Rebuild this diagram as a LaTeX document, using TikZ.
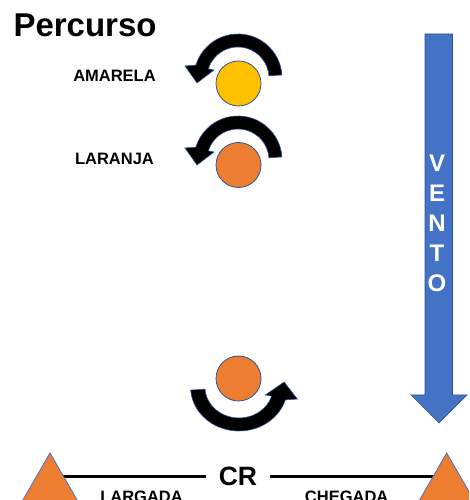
\documentclass[tikz,border=0pt]{standalone}
\usepackage{fontspec}
\setmainfont{Liberation Sans}
\usetikzlibrary{shapes}
\definecolor{amarelo}{HTML}{FFC000}
\definecolor{laranja}{HTML}{ED7D31}
\definecolor{azul}{HTML}{4472C4}
\definecolor{azulescuro}{HTML}{2F528F}
\newcommand{\rotulo}[1]{{\fontsize{16.5}{18}\selectfont\bfseries #1}}
% curved arrow turning round a buoy, drawn about its own centre
\newcommand{\giro}{%
  \filldraw[giroseta] (4:44) arc[start angle=4, end angle=163, radius=44]
    -- (-53,12) -- (-41,-5) -- (-24,8)
    -- (163:31) arc[start angle=163, end angle=4, radius=31] -- cycle;}

\begin{document}
\begin{tikzpicture}[x=1pt, y=1pt,
    bola/.style={circle, draw=azulescuro, line width=0.8pt, minimum size=45pt, inner sep=0pt},
    giroseta/.style={fill=black, draw=azulescuro, line width=0.6pt},
    boia/.style={regular polygon, regular polygon sides=3, fill=laranja, draw=azul, line width=0.8pt, minimum size=100pt, inner sep=0pt},
    linha/.style={line width=2.7pt}]
	\clip (0,0) rectangle (469,500);

	\node[anchor=base west] (titulo) at (10,463) {\fontsize{33}{36}\selectfont\bfseries Percurso};

	% buoys and their labels
	\node[anchor=base] (amarela) at (114.5,418) {\rotulo{AMARELA}};
	\node[anchor=base, below of=amarela, node distance=83pt] (laranja) {\rotulo{LARANJA}};
	\node[bola, fill=amarelo] (bamarela) at (238.5,416.5) {};
	\node[bola, fill=laranja, below of=bamarela, node distance=81.5pt] (blaranja) {};
	\node[bola, fill=laranja] (bfinal) at (238.5,121.5) {};

	\begin{scope}[shift={(238,422)}] \giro \end{scope}
	\begin{scope}[shift={(238,340)}] \giro \end{scope}
	\begin{scope}[shift={(239,113)}, rotate=180, xscale=1.1] \giro \end{scope}

	% wind
	\filldraw[fill=azul, draw=azulescuro, line width=0.6pt]
	  (425,466) -- (452.5,466) -- (452.5,105) -- (467,105) -- (439,77)
	  -- (411,105) -- (425,105) -- cycle;
	\node[anchor=north, inner sep=0pt, align=center, text=white,
	  font=\fontsize{24}{30}\selectfont\bfseries] (vento) at (437,345)
	  {V\\E\\N\\T\\O};

	% start and finish line
	\node[inner xsep=13pt] (cr) at (238,23.5) {\fontsize{26.5}{28}\selectfont\bfseries CR};
	\coordinate (largada) at (50,-3);
	\coordinate (chegada) at (446.7,-3);
	\draw[linha] (cr.west) -- (cr.west -| largada);
	\draw[linha] (cr.east) -- (cr.east -| chegada);
	\node[boia] (blargada) at (largada) {};
	\node[boia] (bchegada) at (chegada) {};
	\node[anchor=base] (tlargada) at (141.5,-2) {\rotulo{LARGADA}};
	\node[anchor=base] (tchegada) at (346.7,-2) {\rotulo{CHEGADA}};
\end{tikzpicture}
\end{document}
